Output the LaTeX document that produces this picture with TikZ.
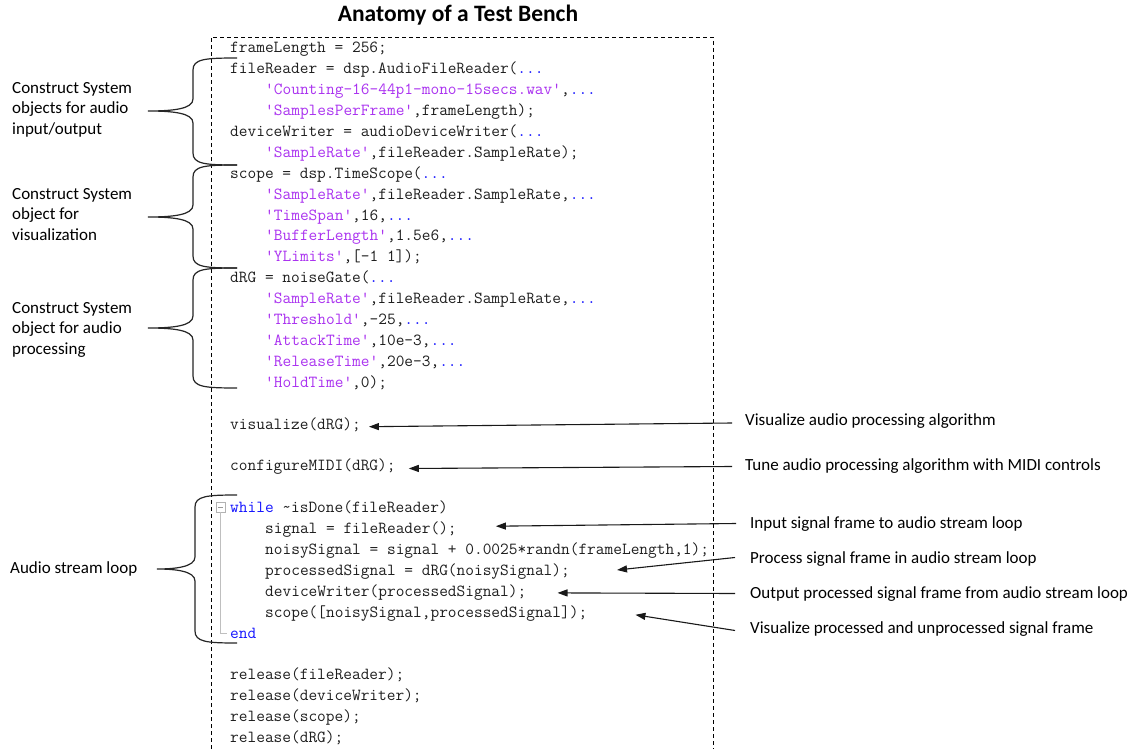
\documentclass[tikz,border=0pt]{standalone}
\usepackage{fontspec}
\setmainfont{Carlito}
\newcommand\codefont{\ttfamily}
\usetikzlibrary{arrows.meta,calc}
\definecolor{strc}{RGB}{170,50,240}
\definecolor{kwc}{RGB}{20,20,255}
\definecolor{codec}{RGB}{30,30,30}
\newcommand\sq{\XeTeXglyph\XeTeXcharglyph"27\relax}
\newcommand\mystr[1]{\textcolor{strc}{\sq#1\sq}}
\newcommand\mydots{\textcolor{kwc}{...}}
\newcommand\kw[1]{\textcolor{kwc}{#1}}
\newcommand\drawbrace[6]{% top, mid, bottom, spine x, tip x, right x
  \draw[br] (#6,#1) .. controls (#4+12,#1) and (#4,#1+1) .. (#4,#1+12)
    -- (#4,#2-12) .. controls (#4,#2-2) and (#4-20,#2) .. (#5,#2)
    .. controls (#4-20,#2) and (#4,#2+2) .. (#4,#2+12)
    -- (#4,#3-12) .. controls (#4,#3-1) and (#4+12,#3) .. (#6,#3);}
\begin{document}
\begin{tikzpicture}[x=1pt,y=-1pt,
  code/.style={anchor=mid west,inner sep=0pt,yshift=-2.5pt,font=\codefont\fontsize{16.9}{18}\selectfont,text=codec},
  lab/.style={anchor=west,inner sep=0pt,yshift=-1.5pt,font=\fontsize{17}{20.5}\selectfont,align=left},
  br/.style={line width=1.2pt,black!85},
  arr/.style={line width=1.1pt,black!90,-{Triangle[length=10pt,width=7pt]}},
  boxline/.style={dash pattern=on 4pt off 3pt,line width=0.9pt}]
\fill[white] (0,0) rectangle (1141,749);
\useasboundingbox (0,0) rectangle (1141,749);
% title
\node[font=\bfseries\fontsize{23.5}{28}\selectfont,inner sep=0pt] (title) at (458,15.5) {Anatomy of a Test Bench};
% dashed box
\draw[boxline] (211,749) -- (211,37) -- (713,37) -- (713,749);
% code
\node[code] (c0) at (230,48) {frameLength = 256;};
\node[code] (c1) at (230,68.9) {fileReader = dsp.AudioFileReader(\mydots};
\node[code] (c2) at (265,89.8) {\mystr{Counting-16-44p1-mono-15secs.wav},\mydots};
\node[code] (c3) at (265,110.7) {\mystr{SamplesPerFrame},frameLength);};
\node[code] (c4) at (230,131.6) {deviceWriter = audioDeviceWriter(\mydots};
\node[code] (c5) at (265,152.5) {\mystr{SampleRate},fileReader.SampleRate);};
\node[code] (c6) at (230,173.4) {scope = dsp.TimeScope(\mydots};
\node[code] (c7) at (265,194.3) {\mystr{SampleRate},fileReader.SampleRate,\mydots};
\node[code] (c8) at (265,215.2) {\mystr{TimeSpan},16,\mydots};
\node[code] (c9) at (265,236.1) {\mystr{BufferLength},1.5e6,\mydots};
\node[code] (c10) at (265,257) {\mystr{YLimits},[-1 1]);};
\node[code] (c11) at (230,277.9) {dRG = noiseGate(\mydots};
\node[code] (c12) at (265,298.8) {\mystr{SampleRate},fileReader.SampleRate,\mydots};
\node[code] (c13) at (265,319.7) {\mystr{Threshold},-25,\mydots};
\node[code] (c14) at (265,340.6) {\mystr{AttackTime},10e-3,\mydots};
\node[code] (c15) at (265,361.5) {\mystr{ReleaseTime},20e-3,\mydots};
\node[code] (c16) at (265,382.4) {\mystr{HoldTime},0);};
\node[code] (c18) at (230,424.2) {visualize(dRG);};
\node[code] (c20) at (230,466) {configureMIDI(dRG);};
\node[code] (c22) at (230,507.8) {\kw{while} \string~isDone(fileReader)};
\node[code] (c23) at (265,528.7) {signal = fileReader();};
\node[code] (c24) at (265,549.6) {noisySignal = signal + 0.0025*randn(frameLength,1);};
\node[code] (c25) at (265,570.5) {processedSignal = dRG(noisySignal);};
\node[code] (c26) at (265,591.4) {deviceWriter(processedSignal);};
\node[code] (c27) at (265,612.3) {scope([noisySignal,processedSignal]);};
\node[code] (c28) at (230,633.2) {\kw{end}};
\node[code] (c30) at (230,675) {release(fileReader);};
\node[code] (c31) at (230,695.9) {release(deviceWriter);};
\node[code] (c32) at (230,716.8) {release(scope);};
\node[code] (c33) at (230,737.7) {release(dRG);};
% fold marker
\draw[black!30,line width=0.8pt] (216,502.5) rectangle (225,512);
\draw[black!40,line width=0.8pt] (218,507.3) -- (223,507.3);
\draw[black!25,line width=0.9pt] (220.5,512) -- (220.5,633.5) -- (227,633.5);
% left labels
\node[lab] (l1) at (12,108) {Construct System\\objects for audio\\input/output};
\node[lab] (l2) at (12,213) {Construct System\\object for\\visualization};
\node[lab] (l3) at (12,328) {Construct System\\object for audio\\processing};
\node[lab] (l4) at (10,567) {Audio stream loop};
% braces
\drawbrace{58}{111}{165}{193}{148}{237}
\drawbrace{165}{217}{268}{193}{148}{237}
\drawbrace{268}{328}{388}{193}{148}{237}
\drawbrace{495}{569}{643}{195}{157}{237}
% right labels
\node[lab] (r1) at (745,420) {Visualize audio processing algorithm};
\node[lab] (r2) at (745,465) {Tune audio processing algorithm with MIDI controls};
\node[lab] (r3) at (750,523) {Input signal frame to audio stream loop};
\node[lab] (r4) at (750,558) {Process signal frame in audio stream loop};
\node[lab] (r5) at (750,593) {Output processed signal frame from audio stream loop};
\node[lab] (r6) at (750,628) {Visualize processed and unprocessed signal frame};
% arrows
\draw[arr] ($(r1.west)+(-13,1.5)$) -- ($(c18.mid east)+(8,0)$);
\draw[arr] ($(r2.west)+(-13,0)$) -- ($(c20.mid east)+(13,0)$);
\draw[arr] ($(r3.west)+(-14,-1)$) -- ($(c23.mid east)+(39,-5)$);
\draw[arr] ($(r4.west)+(-15,-2)$) -- ($(c25.mid east)+(47,-3)$);
\draw[arr] ($(r5.west)+(-15,-1)$) -- ($(c26.mid east)+(31,-1)$);
\draw[arr] ($(r6.west)+(-15,1)$) -- ($(c27.mid east)+(48,0)$);
\end{tikzpicture}
\end{document}
